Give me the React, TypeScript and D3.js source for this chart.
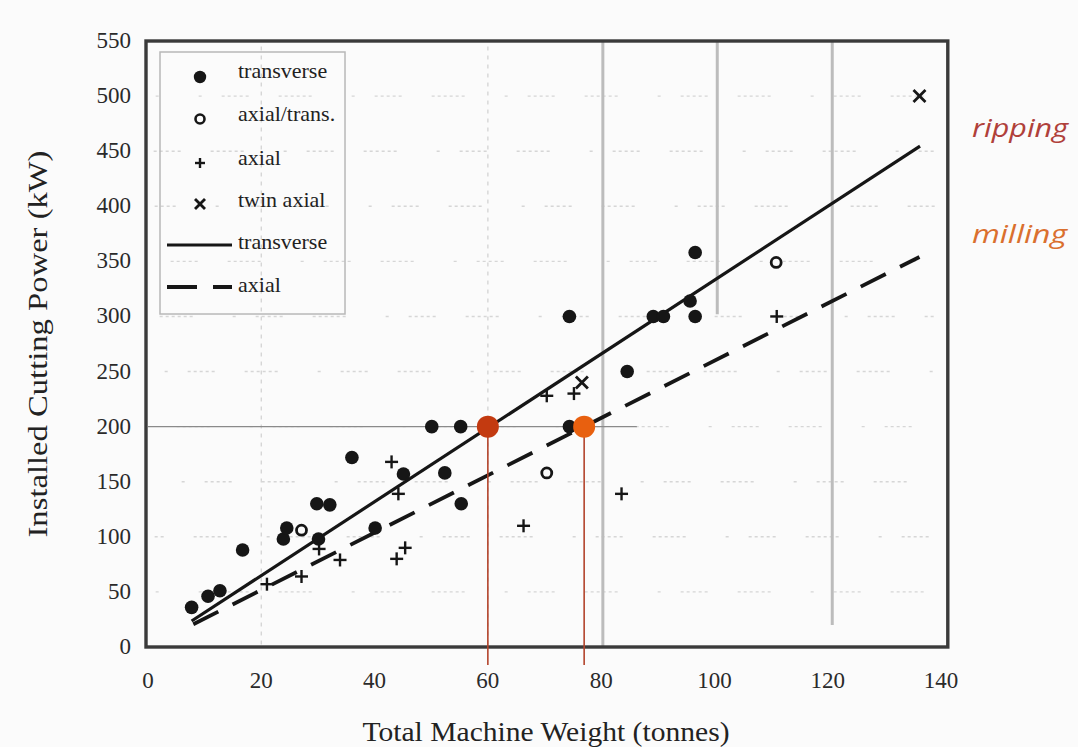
import React from "react";
import * as d3 from "d3";

// ---------- data ----------
const transverse: [number, number][] = [
  [7.7, 36], [10.6, 46], [12.7, 51], [16.7, 88], [23.9, 98], [24.5, 108],
  [30.1, 98], [29.8, 130], [32.1, 129], [36.0, 172], [40.1, 108], [45.1, 157],
  [50.1, 200], [55.2, 200], [52.4, 158], [55.3, 130], [74.4, 200], [74.4, 300],
  [84.6, 250], [89.2, 300], [91.0, 300], [95.7, 314], [96.6, 300], [96.6, 358],
];
const axialTrans: [number, number][] = [[27.1, 106], [70.4, 158], [110.9, 349]];
const axial: [number, number][] = [
  [21.0, 57], [27.1, 64], [30.2, 89], [33.9, 79], [43.0, 168], [44.2, 139],
  [45.4, 90], [43.9, 80], [66.3, 110], [83.6, 139], [70.4, 228], [75.2, 230],
  [111.0, 300],
];
const twinAxial: [number, number][] = [[76.6, 240], [136.2, 500]];
const transverseFit: [number, number][] = [[7.7, 23.6], [136.3, 454.6]];
const axialFit: [number, number][] = [[8.0, 20.6], [136.2, 354]];
const highlights = [
  { w: 60, p: 200, color: "#c33a10" },
  { w: 77, p: 200, color: "#e8600f" },
];
const xTicks = [0, 20, 40, 60, 80, 100, 120, 140];
const yTicks = [0, 50, 100, 150, 200, 250, 300, 350, 400, 450, 500, 550];
const legendItems = ["transverse", "axial/trans.", "axial", "twin axial", "transverse", "axial"];
const annotations = [
  { text: "ripping", color: "#b0403a" },
  { text: "milling", color: "#da6f2e" },
];

export default function App() {
  const W = 1078, H = 747;
  const x = d3.scaleLinear().domain([0, 140]).range([148, 941]);
  const y = d3.scaleLinear().domain([0, 550]).range([647, 41]);
  const line = d3.line<[number, number]>().x(d => x(d[0])).y(d => y(d[1]));
  const serif = "'Liberation Serif', 'DejaVu Serif', serif";
  const ink = "#161616";

  const plus = (cx: number, cy: number, s: number, k: string) => (
    <g key={k} stroke={ink} strokeWidth={2.4}>
      <line x1={cx - s} x2={cx + s} y1={cy} y2={cy} />
      <line x1={cx} x2={cx} y1={cy - s} y2={cy + s} />
    </g>
  );
  const cross = (cx: number, cy: number, s: number, k: string) => (
    <g key={k} stroke={ink} strokeWidth={2.8}>
      <line x1={cx - s} x2={cx + s} y1={cy - s} y2={cy + s} />
      <line x1={cx - s} x2={cx + s} y1={cy + s} y2={cy - s} />
    </g>
  );

  const legY = [78, 121, 165, 207, 249, 292];
  const legX = 200;

  return (
    <svg width={W} height={H} style={{ position: "absolute", left: 0, top: 0, background: "#fbfbfb" }}>
      {/* faint scanned grid */}
      <g stroke="#d6d6d6" strokeWidth={1.4} fill="none">
        {yTicks.slice(1, -1).map(t => (
          <line key={"hg" + t} x1={x(1)} x2={x(139)} y1={y(t)} y2={y(t)}
            strokeDasharray="3 3 3 3 3 3 3 3 3 30 3 3 3 3 3 3 3 3 3 3 3 40 3 20"
            strokeDashoffset={t * 1.7} />
        ))}
        {[20, 60].map(t => (
          <line key={"vd" + t} x1={x(t)} x2={x(t)} y1={y(545)} y2={y(0)} strokeDasharray="4 5" />
        ))}
      </g>
      <g stroke="#bcbcbc" strokeWidth={3} fill="none">
        <line x1={x(80.3)} x2={x(80.3)} y1={y(550)} y2={y(0)} />
        <line x1={x(100.5)} x2={x(100.5)} y1={y(550)} y2={y(302)} />
        <line x1={x(120.8)} x2={x(120.8)} y1={y(550)} y2={y(20)} />
      </g>
      <line x1={x(0)} x2={x(86.3)} y1={y(200)} y2={y(200)} stroke="#8a8a8a" strokeWidth={1.4} />

      {/* legend box */}
      <rect x={160} y={52} width={185} height={262} fill="none" stroke="#b8b8b8" strokeWidth={1.5} />

      {/* frame */}
      <rect x={x(0) - 2} y={y(550)} width={x(141.2) - x(0) + 2} height={y(0) - y(550)}
        fill="none" stroke="#3a3a3a" strokeWidth={3.4} />

      {/* fit lines */}
      <path d={line(transverseFit) || ""} stroke={ink} strokeWidth={3.2} fill="none" />
      <path d={line(axialFit) || ""} stroke={ink} strokeWidth={3.8} fill="none" strokeDasharray="28 16" />

      {/* points */}
      {transverse.map((d, i) => <circle key={"t" + i} cx={x(d[0])} cy={y(d[1])} r={6.8} fill={ink} />)}
      {axialTrans.map((d, i) => (
        <circle key={"a" + i} cx={x(d[0])} cy={y(d[1])} r={5} fill="none" stroke={ink} strokeWidth={2.8} />
      ))}
      {axial.map((d, i) => plus(x(d[0]), y(d[1]), 6.5, "p" + i))}
      {twinAxial.map((d, i) => cross(x(d[0]), y(d[1]), 6, "x" + i))}

      {/* highlight markers */}
      {highlights.map((h, i) => (
        <g key={"h" + i}>
          <line x1={x(h.w)} x2={x(h.w)} y1={y(h.p)} y2={y(0) + 18} stroke="#b3442c" strokeWidth={1.6} />
          <circle cx={x(h.w)} cy={y(h.p)} r={11} fill={h.color} />
        </g>
      ))}

      {/* legend */}
      <circle cx={legX} cy={legY[0] - 1} r={6.2} fill={ink} />
      <circle cx={legX} cy={legY[1] - 2} r={4.5} fill="none" stroke={ink} strokeWidth={2.6} />
      {plus(legX, legY[2] - 2, 5, "lp")}
      {cross(legX, legY[3] - 3, 5, "lx")}
      <line x1={167} x2={232} y1={legY[4] - 4} y2={legY[4] - 4} stroke={ink} strokeWidth={3} />
      <line x1={167} x2={232} y1={legY[5] - 5} y2={legY[5] - 5} stroke={ink} strokeWidth={3.8} strokeDasharray="30 16" />
      {legendItems.map((t, i) => (
        <text key={"lt" + i} x={238} y={legY[i]} fontFamily={serif} fontSize={22} fill="#222">{t}</text>
      ))}

      {/* axes labels */}
      {yTicks.map(t => (
        <text key={"yt" + t} x={131} y={y(t) + 7} textAnchor="end" fontFamily={serif} fontSize={23} fill="#2a2a2a">{t}</text>
      ))}
      {xTicks.map(t => (
        <text key={"xt" + t} x={x(t)} y={688} textAnchor="middle" fontFamily={serif} fontSize={23} fill="#2a2a2a">{t}</text>
      ))}
      <text x={546} y={741} textAnchor="middle" fontFamily={serif} fontSize={27} fill="#222"
        textLength={367} lengthAdjust="spacingAndGlyphs">Total Machine Weight (tonnes)</text>
      <text transform="translate(47,344) rotate(-90)" textAnchor="middle" fontFamily={serif} fontSize={28}
        fill="#222" textLength={387} lengthAdjust="spacingAndGlyphs">Installed Cutting Power (kW)</text>

      {/* annotations */}
      <text x={972} y={137} fontFamily="'Open Sans', sans-serif" fontStyle="italic" fontSize={26}
        fill={annotations[0].color} textLength={96} lengthAdjust="spacingAndGlyphs">{annotations[0].text}</text>
      <text x={972} y={243} fontFamily="'Open Sans', sans-serif" fontStyle="italic" fontSize={26}
        fill={annotations[1].color} textLength={95} lengthAdjust="spacingAndGlyphs">{annotations[1].text}</text>
    </svg>
  );
}
